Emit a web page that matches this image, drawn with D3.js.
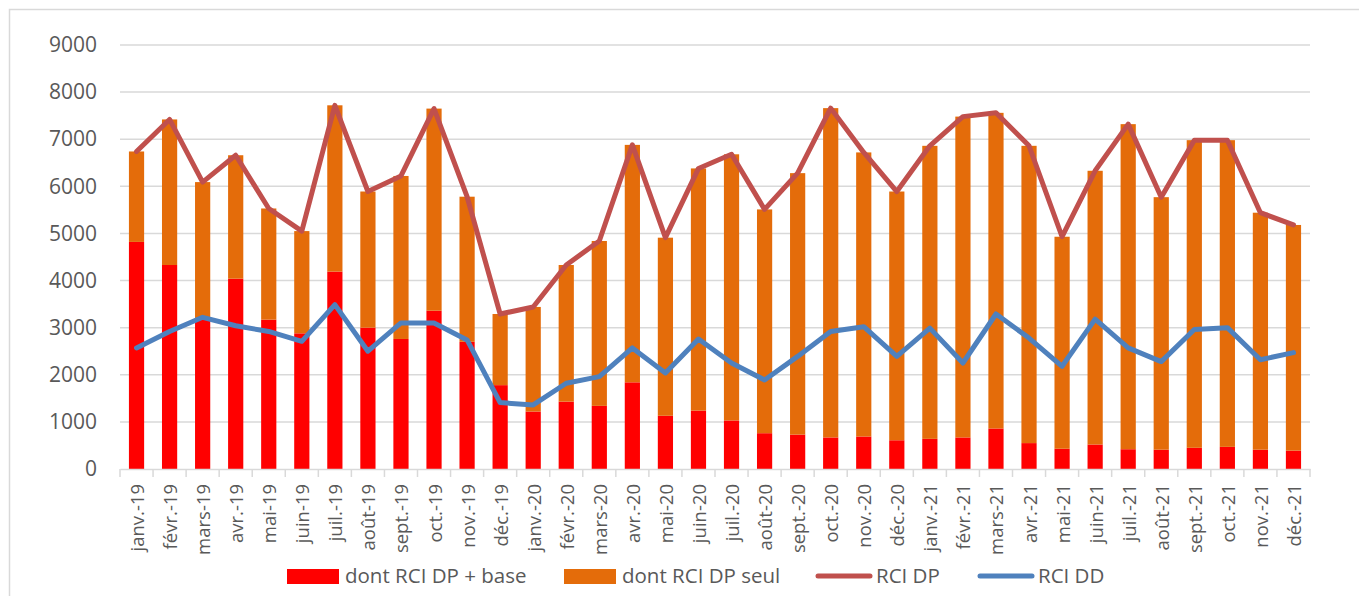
<!DOCTYPE html>
<html>
<head>
<meta charset="utf-8">
<script src="https://cdn.jsdelivr.net/npm/d3@7"></script>
<style>
  body { margin: 0; background: #fff; }
  text { font-family: "Open Sans", sans-serif; fill: #595959; }
</style>
</head>
<body>
<div id="chart-area"></div>
<script>
// Data
var months = ["janv.-19","févr.-19","mars-19","avr.-19","mai-19","juin-19","juil.-19","août-19","sept.-19","oct.-19","nov.-19","déc.-19",
              "janv.-20","févr.-20","mars-20","avr.-20","mai-20","juin-20","juil.-20","août-20","sept.-20","oct.-20","nov.-20","déc.-20",
              "janv.-21","févr.-21","mars-21","avr.-21","mai-21","juin-21","juil.-21","août-21","sept.-21","oct.-21","nov.-21","déc.-21"];

var dpBase = [4820,4330,3170,4040,3170,2880,4190,3000,2760,3360,2700,1780,
              1220,1430,1340,1840,1130,1240,1030,760,730,670,690,610,
              640,670,860,550,430,520,420,410,450,470,410,390];

var dpSeul = [1920,3090,2920,2620,2360,2170,3530,2890,3460,4290,3080,1510,
              2220,2900,3500,5040,3780,5140,5650,4750,5550,6990,6030,5280,
              6220,6810,6700,6310,4500,5810,6900,5360,6530,6510,5030,4790];

var rciDP = [6740,7420,6090,6660,5530,5050,7720,5890,6220,7650,5780,3290,
             3440,4330,4840,6880,4910,6380,6680,5510,6280,7660,6720,5890,
             6860,7480,7560,6860,4930,6330,7320,5770,6980,6980,5440,5180];

var rciDD = [2570,2920,3220,3040,2920,2710,3490,2500,3100,3100,2740,1410,
             1360,1820,1960,2570,2040,2760,2250,1890,2390,2920,3020,2390,
             2990,2250,3290,2780,2180,3180,2570,2280,2960,3000,2320,2470];

var yTicks = [0,1000,2000,3000,4000,5000,6000,7000,8000,9000];

var legendItems = [
    {label: "dont RCI DP + base", color: "#FF0000", type: "rect", x: 287},
    {label: "dont RCI DP seul", color: "#E46C0A", type: "rect", x: 564},
    {label: "RCI DP", color: "#C0504D", type: "line", x: 816},
    {label: "RCI DD", color: "#4F81BD", type: "line", x: 978}
];

// SVG drawing area
var W = 1359, H = 596;
var margin = {top: 45, left: 120, right: 49, bottom: 127};
var width = W - margin.left - margin.right,
    height = H - margin.top - margin.bottom;

var root = d3.select("#chart-area").append("svg")
    .attr("width", W)
    .attr("height", H);

// outer frame
root.append("rect")
    .attr("x", 9.5).attr("y", 9.5)
    .attr("width", W + 20).attr("height", H + 20)
    .attr("fill", "none")
    .attr("stroke", "#D9D9D9")
    .attr("stroke-width", 1.5);

var svg = root.append("g")
    .attr("transform", "translate(" + margin.left + "," + margin.top + ")");

//SCALES
var x = d3.scaleBand()
    .domain(months)
    .range([0, width]);

var y = d3.scaleLinear()
    .domain([0, 9000])
    .range([height, 0]);

var barW = x.bandwidth() * 0.46;

//GRID
svg.selectAll(".grid")
    .data(yTicks.slice(1))
    .enter().append("line")
    .attr("class", "grid")
    .attr("x1", 0).attr("x2", width)
    .attr("y1", function(d) { return y(d); })
    .attr("y2", function(d) { return y(d); })
    .attr("stroke", "#D9D9D9")
    .attr("stroke-width", 1.5);

//Y AXIS
var yAxis = d3.axisLeft(y).tickValues(yTicks).tickFormat(d3.format("d")).tickSize(0).tickPadding(23);
var gy = svg.append("g").attr("class", "axis y-axis").call(yAxis);
gy.select(".domain").remove();
gy.selectAll("text").style("font-size", "21px").attr("fill", "#595959");

//BARS
svg.selectAll(".bar-base")
    .data(dpBase)
    .enter().append("rect")
    .attr("class", "bar-base")
    .attr("x", function(d, i) { return x(months[i]) + (x.bandwidth() - barW) / 2; })
    .attr("width", barW)
    .attr("y", function(d) { return y(d); })
    .attr("height", function(d) { return y(0) - y(d); })
    .attr("fill", "#FF0000");

svg.selectAll(".bar-seul")
    .data(dpSeul)
    .enter().append("rect")
    .attr("class", "bar-seul")
    .attr("x", function(d, i) { return x(months[i]) + (x.bandwidth() - barW) / 2; })
    .attr("width", barW)
    .attr("y", function(d, i) { return y(d + dpBase[i]); })
    .attr("height", function(d) { return y(0) - y(d); })
    .attr("fill", "#E46C0A");

//X AXIS
var xAxis = d3.axisBottom(x).tickSize(0).tickFormat("");
var gx = svg.append("g")
    .attr("class", "axis x-axis")
    .attr("transform", "translate(0," + height + ")")
    .call(xAxis);
gx.select(".domain").attr("stroke", "#D9D9D9").attr("stroke-width", 1.5);

gx.selectAll(".sep")
    .data(months.concat(["end"]))
    .enter().append("line")
    .attr("class", "sep")
    .attr("x1", function(d, i) { return i * x.step(); })
    .attr("x2", function(d, i) { return i * x.step(); })
    .attr("y1", 0).attr("y2", 8)
    .attr("stroke", "#D9D9D9")
    .attr("stroke-width", 1.5);

gx.selectAll(".mlabel")
    .data(months)
    .enter().append("text")
    .attr("class", "mlabel")
    .attr("transform", function(d) {
        return "translate(" + (x(d) + x.bandwidth() / 2 + 1) + ",15) rotate(-90)";
    })
    .attr("text-anchor", "end")
    .attr("dy", "0.35em")
    .style("font-size", "18.5px")
    .text(function(d) { return d; });

//LINES
var drawLine = d3.line()
    .x(function(d, i) { return x(months[i]) + x.bandwidth() / 2; })
    .y(function(d) { return y(d); });

svg.append("path")
    .attr("class", "line")
    .attr("d", drawLine(rciDP))
    .attr("fill", "none")
    .attr("stroke", "#C0504D")
    .attr("stroke-width", 5)
    .attr("stroke-linejoin", "round")
    .attr("stroke-linecap", "round");

svg.append("path")
    .attr("class", "line")
    .attr("d", drawLine(rciDD))
    .attr("fill", "none")
    .attr("stroke", "#4F81BD")
    .attr("stroke-width", 5)
    .attr("stroke-linejoin", "round")
    .attr("stroke-linecap", "round");

//LEGEND
var legend = root.append("g").attr("transform", "translate(0,576)");
var li = legend.selectAll(".li")
    .data(legendItems)
    .enter().append("g")
    .attr("class", "li")
    .attr("transform", function(d) { return "translate(" + d.x + ",0)"; });

li.filter(function(d) { return d.type === "rect"; })
    .append("rect")
    .attr("x", 0).attr("y", -7)
    .attr("width", 52).attr("height", 15)
    .attr("fill", function(d) { return d.color; });

li.filter(function(d) { return d.type === "line"; })
    .append("line")
    .attr("x1", 2).attr("x2", 54)
    .attr("y1", 0).attr("y2", 0)
    .attr("stroke", function(d) { return d.color; })
    .attr("stroke-width", 5)
    .attr("stroke-linecap", "round");

li.append("text")
    .attr("x", function(d) { return d.type === "rect" ? 58 : 60; })
    .attr("y", 0)
    .attr("dy", "0.35em")
    .style("font-size", "20.5px")
    .text(function(d) { return d.label; });
</script>
</body>
</html>
